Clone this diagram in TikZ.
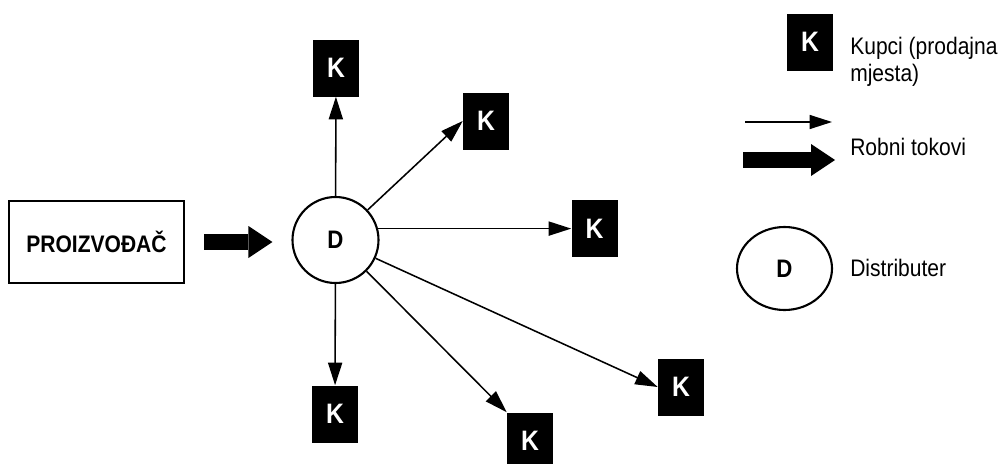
\documentclass[tikz,border=0pt]{standalone}
\usepackage{fontspec}
\setmainfont{Liberation Sans}[FakeStretch=0.88]
\usetikzlibrary{arrows.meta,shapes.geometric}
\newcommand{\ringwidth}{1.5pt}
\newcommand{\kwidth}{1.15cm}
\newcommand{\kheight}{1.425cm}
\tikzset{
  kupac/.style={fill=black, text=white, minimum width=\kwidth, minimum height=\kheight, inner sep=0pt, font=\bfseries\fontsize{20}{24}\selectfont},
  distrib/.style={draw, line width=\ringwidth, inner sep=0pt, font=\bfseries\fontsize{18}{20}\selectfont},
  tok/.style={line width=1.1pt, -{Triangle[length=16pt,width=10pt]}},
  velikitok/.style={line width=0.4cm, -{Triangle[length=0.6cm,width=0.8cm,line width=0pt]}},
  opis/.style={anchor=west, inner sep=0pt, align=left, font=\fontsize{17}{19}\selectfont}
}

\begin{document}
\begin{tikzpicture}
\useasboundingbox (0,0) rectangle (25.1,-11.6);
\node[draw, line width=1.8pt, minimum width=4.375cm, minimum height=2.05cm, font=\bfseries\fontsize{17}{20}\selectfont] (P) at (2.4125,-6.05) {PROIZVOĐAČ};
\node[distrib, circle, minimum size=2.15cm] (D) at (8.3875,-6.0) {D};
\node[kupac] (K1) at (8.4,-1.7) {K};
\node[kupac] (K2) at (12.15,-3.025) {K};
\node[kupac] (K3) at (14.8625,-5.7125) {K};
\node[kupac] (K4) at (8.375,-10.35) {K};
\node[kupac] (K5) at (13.25,-11.025) {K};
\node[kupac] (K6) at (17.025,-9.675) {K};
%tokovi
\draw[velikitok, shorten <=0.475cm, shorten >=0.475cm] (P.east) -- (D.west |- P.east);
\draw[tok] (D) -- (K1);
\draw[tok] (D) -- (K2.west);
\draw[tok] (D.15) -- (D.15 -| K3.west);
\draw[tok] (D) -- (K4);
\draw[tok] (D) -- (K5.north west);
\draw[tok] (D) -- (K6.west);
%legenda
\node[kupac] (Kleg) at (20.25,-1.05) {K};
\node[opis] (Kopis) at (21.25,-1.55) {Kupci (prodajna\\mjesta)};
\coordinate (t1) at (18.625,-3.05);
\coordinate (t2) at (20.8,-3.05);
\coordinate (t3) at (18.575,-4.0);
\coordinate (t4) at (20.875,-4.0);
\draw[tok] (t1) -- (t2);
\draw[velikitok] (t3) -- (t4);
\node[opis] (Topis) at (21.25,-3.675) {Robni tokovi};
\node[distrib, ellipse, minimum width=2.375cm, minimum height=2.075cm] (Dleg) at (19.6125,-6.7125) {D};
\node[opis] (Dopis) at (21.25,-6.7) {Distributer};
\end{tikzpicture}
\end{document}
